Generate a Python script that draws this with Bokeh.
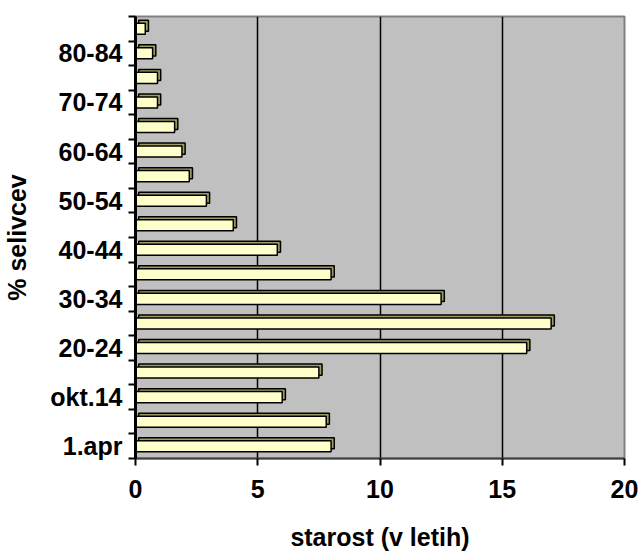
from bokeh.plotting import figure
from bokeh.models import FixedTicker, Range1d, ColumnDataSource
from bokeh.embed import file_html
from bokeh.resources import INLINE

categories = ["1.apr", "5-9", "okt.14", "15-19", "20-24", "25-29", "30-34", "35-39",
              "40-44", "45-49", "50-54", "55-59", "60-64", "65-69", "70-74", "75-79",
              "80-84", "85+"]
values = [8.0, 7.8, 6.0, 7.5, 16.0, 17.0, 12.5, 8.0, 5.8, 4.0, 2.9, 2.2, 1.9, 1.6, 0.9, 0.9, 0.7, 0.4]
x_ticks = [0, 5, 10, 15, 20]
x_title = "starost (v letih)"
y_title = "% selivcev"

n = len(categories)
centers = [i + 0.5 for i in range(n)]
dx = 0.13   # 3D depth in x units
dy = 0.12   # 3D depth in y units

src = ColumnDataSource(dict(
    y=centers,
    v=values,
    yb=[c + dy for c in centers],
    lb=[dx] * n,
    vb=[v + dx for v in values],
))

FONT = "Liberation Sans"
FS = "25px"

p = figure(width=640, height=553, output_backend="svg", toolbar_location=None,
           x_range=Range1d(0, 20), y_range=Range1d(0, n),
           min_border_left=134, min_border_right=16, min_border_top=16, min_border_bottom=91)

p.background_fill_color = "#C0C0C0"
p.border_fill_color = "white"
p.outline_line_color = "#808080"
p.outline_line_width = 2

# back (3D depth) bars
p.hbar(y="yb", left="lb", right="vb", height=0.45, source=src,
       fill_color="#9C9C63", line_color="black", line_width=1.5)
# front bars
p.hbar(y="y", left=0, right="v", height=0.45, source=src,
       fill_color="#FFFFCC", line_color="black", line_width=1.5)

# x axis
p.xaxis.ticker = FixedTicker(ticks=x_ticks)
p.xaxis.major_tick_out = 7
p.xaxis.major_tick_in = 0
p.xaxis.minor_tick_line_color = None
p.xaxis.axis_line_color = "#404040"
p.xaxis.axis_line_width = 2
p.xaxis.major_tick_line_width = 2
p.xaxis.major_tick_line_color = "black"
p.xaxis.major_label_standoff = 14
p.xaxis.major_label_text_font = FONT
p.xaxis.major_label_text_font_style = "bold"
p.xaxis.major_label_text_font_size = FS
p.xaxis.major_label_text_color = "black"
p.xaxis.axis_label = x_title
p.xaxis.axis_label_text_font = FONT
p.xaxis.axis_label_text_font_style = "bold"
p.xaxis.axis_label_text_font_size = FS
p.xaxis.axis_label_text_color = "black"
p.xaxis.axis_label_standoff = 22

# y axis: labels at every other category centre, tick marks at boundaries
lab_pos = [centers[i] for i in range(0, n, 2)]
p.yaxis.ticker = FixedTicker(ticks=lab_pos, minor_ticks=list(range(n + 1)))
p.yaxis.major_label_overrides = {centers[i]: categories[i] for i in range(0, n, 2)}
p.yaxis.major_tick_out = 0
p.yaxis.major_tick_in = 0
p.yaxis.minor_tick_out = 7
p.yaxis.minor_tick_in = 0
p.yaxis.minor_tick_line_width = 2
p.yaxis.minor_tick_line_color = "black"
p.yaxis.axis_line_color = "black"
p.yaxis.axis_line_width = 3
p.yaxis.major_label_standoff = 6
p.yaxis.major_label_text_font = FONT
p.yaxis.major_label_text_font_style = "bold"
p.yaxis.major_label_text_font_size = FS
p.yaxis.major_label_text_color = "black"
p.yaxis.axis_label = y_title
p.yaxis.axis_label_text_font = FONT
p.yaxis.axis_label_text_font_style = "bold"
p.yaxis.axis_label_text_font_size = FS
p.yaxis.axis_label_text_color = "black"
p.yaxis.axis_label_standoff = 16

p.ygrid.grid_line_color = None
p.xgrid.ticker = FixedTicker(ticks=[5, 10, 15])
p.xgrid.grid_line_color = "black"
p.xgrid.grid_line_width = 1.5

open("out.html", "w").write(file_html(p, INLINE))
